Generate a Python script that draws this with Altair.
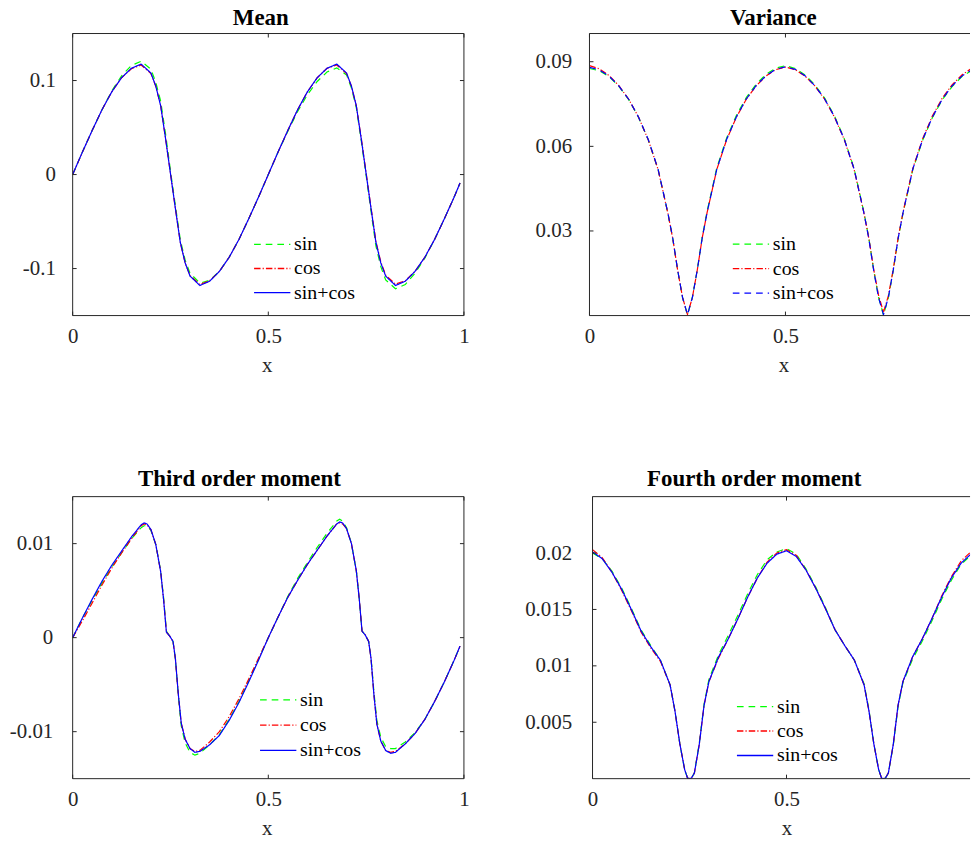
import altair as alt
import pandas as pd

SERIES = ["sin", "cos", "sin+cos"]
LINE_COLORS = ["#00ff00", "#ff0000", "#0000ff"]
X_TICKS_FULL = [0, 0.5, 1]
X_TICKS_CUT = [0, 0.5]   # right-hand panels are cut off by the page edge

# ---------------- Mean ----------------
mean_x = [0, 0.025, 0.05, 0.075, 0.1, 0.125, 0.15, 0.175, 0.2,
          0.2125, 0.225, 0.2375, 0.25, 0.2625, 0.275, 0.2875,
          0.3, 0.325, 0.35, 0.375, 0.4, 0.425, 0.45, 0.475, 0.5,
          0.525, 0.55, 0.575, 0.6, 0.625, 0.65, 0.675, 0.7,
          0.7125, 0.725, 0.7375, 0.75, 0.7625, 0.775, 0.7875,
          0.8, 0.825, 0.85, 0.875, 0.9, 0.925, 0.95, 0.975, 0.99]
mean_sin = [0.0, 0.024, 0.047, 0.069, 0.089, 0.105, 0.116, 0.1205, 0.112,
            0.098, 0.078, 0.043, 0.004, -0.033, -0.069, -0.091,
            -0.105, -0.1155, -0.1125, -0.103, -0.088, -0.069, -0.047, -0.024, 0.0,
            0.024, 0.046, 0.067, 0.085, 0.099, 0.109, 0.1135, 0.106,
            0.092, 0.071, 0.036, -0.001, -0.039, -0.076, -0.098,
            -0.112, -0.1215, -0.117, -0.105, -0.089, -0.069, -0.047, -0.024, -0.009]
mean_cos = [0.0, 0.024, 0.047, 0.069, 0.088, 0.103, 0.1125, 0.1165, 0.1075,
            0.094, 0.073, 0.038, 0.001, -0.036, -0.072, -0.094,
            -0.1075, -0.117, -0.113, -0.103, -0.088, -0.069, -0.047, -0.024, 0.0,
            0.024, 0.047, 0.069, 0.088, 0.103, 0.113, 0.1165, 0.1075,
            0.094, 0.073, 0.039, 0.002, -0.035, -0.071, -0.093,
            -0.107, -0.1165, -0.113, -0.103, -0.088, -0.069, -0.047, -0.024, -0.009]
mean_sincos = [0.0, 0.024, 0.047, 0.069, 0.088, 0.103, 0.113, 0.1175, 0.108,
               0.094, 0.073, 0.038, 0.001, -0.036, -0.072, -0.094,
               -0.108, -0.118, -0.1135, -0.103, -0.088, -0.069, -0.047, -0.024, 0.0,
               0.024, 0.047, 0.069, 0.088, 0.103, 0.113, 0.1175, 0.108,
               0.094, 0.073, 0.038, 0.001, -0.036, -0.072, -0.094,
               -0.108, -0.118, -0.1135, -0.103, -0.088, -0.069, -0.047, -0.024, -0.009]

# ---------------- Variance ----------------
var_x = [0, 0.025, 0.05, 0.075, 0.1, 0.125, 0.15, 0.175, 0.2,
         0.2125, 0.225, 0.2375, 0.25, 0.2625, 0.275, 0.2875,
         0.3, 0.325, 0.35, 0.375, 0.4, 0.425, 0.45, 0.475, 0.5,
         0.525, 0.55, 0.575, 0.6, 0.625, 0.65, 0.675, 0.7,
         0.7125, 0.725, 0.7375, 0.75, 0.7625, 0.775, 0.7875,
         0.8, 0.825, 0.85, 0.875, 0.9, 0.925, 0.95, 0.975, 1.0]
var_sin = [0.0876, 0.0868, 0.0847, 0.0813, 0.0766, 0.0703, 0.0623, 0.0518, 0.0363,
           0.0273, 0.0160, 0.0063, 0.0002, 0.0065, 0.0163, 0.0277,
           0.0369, 0.0525, 0.0630, 0.0710, 0.0773, 0.0820, 0.0855, 0.0877, 0.0886,
           0.0876, 0.0853, 0.0818, 0.0771, 0.0708, 0.0627, 0.0522, 0.0367,
           0.0276, 0.0162, 0.0064, 0.0002, 0.0063, 0.0160, 0.0273,
           0.0364, 0.0518, 0.0622, 0.0702, 0.0765, 0.0812, 0.0847, 0.0869, 0.0878]
var_cos = [0.0886, 0.0875, 0.0851, 0.0815, 0.0767, 0.0704, 0.0623, 0.0518, 0.0363,
           0.0273, 0.0160, 0.0064, 0.0004, 0.0064, 0.0161, 0.0274,
           0.0365, 0.0519, 0.0624, 0.0704, 0.0767, 0.0814, 0.0849, 0.0872, 0.0881,
           0.0872, 0.0849, 0.0814, 0.0767, 0.0704, 0.0624, 0.0519, 0.0365,
           0.0276, 0.0165, 0.0072, 0.0012, 0.0070, 0.0164, 0.0276,
           0.0367, 0.0522, 0.0627, 0.0708, 0.0771, 0.0818, 0.0853, 0.0877, 0.0886]
var_sincos = [0.0880, 0.0871, 0.0849, 0.0814, 0.0767, 0.0704, 0.0624, 0.0519, 0.0364,
              0.0274, 0.0161, 0.0064, 0.0003, 0.0064, 0.0161, 0.0274,
              0.0365, 0.0520, 0.0625, 0.0705, 0.0768, 0.0815, 0.0850, 0.0873, 0.0882,
              0.0873, 0.0850, 0.0815, 0.0768, 0.0705, 0.0625, 0.0520, 0.0365,
              0.0274, 0.0161, 0.0064, 0.0003, 0.0064, 0.0161, 0.0274,
              0.0365, 0.0520, 0.0624, 0.0704, 0.0767, 0.0814, 0.0849, 0.0871, 0.0880]

# ---------------- Third order moment ----------------
third_x = [0, 0.025, 0.05, 0.075, 0.1, 0.125, 0.15, 0.175,
           0.1825, 0.19, 0.2, 0.2125, 0.225, 0.2325, 0.2395, 0.2475,
           0.2565, 0.2625, 0.27, 0.2775, 0.2875, 0.3, 0.3125, 0.325,
           0.35, 0.375, 0.4, 0.425, 0.45, 0.475, 0.5,
           0.525, 0.55, 0.575, 0.6, 0.625, 0.65, 0.675,
           0.6825, 0.69, 0.7, 0.7125, 0.725, 0.7325, 0.7395, 0.7475,
           0.7565, 0.7625, 0.77, 0.7775, 0.7875, 0.8, 0.8125, 0.825,
           0.85, 0.875, 0.9, 0.925, 0.95, 0.975, 0.99]
third_sin = [0.0, 0.0021, 0.0040, 0.0058, 0.0075, 0.0090, 0.0105, 0.0117,
             0.0119, 0.0119, 0.0114, 0.0099, 0.0071, 0.0042, 0.0007, 0.0002,
             -0.0004, -0.0023, -0.0062, -0.0094, -0.0112, -0.0122, -0.0125, -0.0123,
             -0.0114, -0.0103, -0.0087, -0.0068, -0.0046, -0.0023, 0.0,
             0.0022, 0.0044, 0.0063, 0.0080, 0.0096, 0.0111, 0.0124,
             0.0126, 0.0124, 0.0117, 0.0100, 0.0071, 0.0041, 0.0007, 0.0003,
             -0.0004, -0.0021, -0.0058, -0.0088, -0.0106, -0.0116, -0.0118, -0.0118,
             -0.0111, -0.0101, -0.0087, -0.0068, -0.0047, -0.0024, -0.0009]
third_cos = [0.0, 0.0018, 0.0037, 0.0056, 0.0074, 0.0090, 0.0105, 0.0119,
             0.0121, 0.0120, 0.0115, 0.0099, 0.0070, 0.0040, 0.0006, 0.0002,
             -0.0004, -0.0022, -0.0060, -0.0091, -0.0108, -0.0118, -0.0121, -0.0120,
             -0.0111, -0.0100, -0.0084, -0.0065, -0.0044, -0.0022, 0.0,
             0.0022, 0.0043, 0.0061, 0.0078, 0.0093, 0.0108, 0.0121,
             0.0122, 0.0121, 0.0116, 0.0100, 0.0071, 0.0041, 0.0007, 0.0003,
             -0.0004, -0.0022, -0.0061, -0.0092, -0.0110, -0.0120, -0.0122, -0.0121,
             -0.0113, -0.0102, -0.0087, -0.0068, -0.0047, -0.0024, -0.0009]
third_sincos = [0.0, 0.0021, 0.0041, 0.0060, 0.0077, 0.0092, 0.0107, 0.0120,
                0.0122, 0.0121, 0.0115, 0.0099, 0.0070, 0.0040, 0.0006, 0.0002,
                -0.0004, -0.0022, -0.0060, -0.0091, -0.0108, -0.0118, -0.0122, -0.0121,
                -0.0114, -0.0104, -0.0088, -0.0069, -0.0047, -0.0024, 0.0,
                0.0022, 0.0043, 0.0061, 0.0078, 0.0093, 0.0108, 0.0121,
                0.0123, 0.0122, 0.0116, 0.0100, 0.0071, 0.0041, 0.0007, 0.0003,
                -0.0004, -0.0022, -0.0061, -0.0092, -0.0110, -0.0120, -0.0123, -0.0122,
                -0.0113, -0.0102, -0.0087, -0.0068, -0.0047, -0.0024, -0.0009]

# ---------------- Fourth order moment ----------------
fourth_x = [0, 0.025, 0.05, 0.075, 0.1, 0.125, 0.15, 0.175, 0.2,
            0.2125, 0.225, 0.2375, 0.245, 0.25, 0.255, 0.2625, 0.275, 0.2875,
            0.3, 0.325, 0.35, 0.375, 0.4, 0.425, 0.45, 0.475, 0.5,
            0.525, 0.55, 0.575, 0.6, 0.625, 0.65, 0.675, 0.7,
            0.7125, 0.725, 0.7375, 0.745, 0.75, 0.755, 0.7625, 0.775, 0.7875,
            0.8, 0.825, 0.85, 0.875, 0.9, 0.925, 0.95, 0.975, 1.0]
fourth_sin = [0.0200, 0.0195, 0.0184, 0.0169, 0.0151, 0.0132, 0.0118, 0.0105, 0.0083,
              0.0060, 0.0031, 0.0008, 0.00005, 0.0, 0.00005, 0.0005, 0.0031, 0.0066,
              0.0088, 0.0110, 0.0127, 0.0145, 0.0164, 0.0181, 0.0194, 0.0201, 0.0204,
              0.0199, 0.0186, 0.0170, 0.0152, 0.0132, 0.0118, 0.0105, 0.0084,
              0.0061, 0.0031, 0.0008, 0.00005, 0.0, 0.00005, 0.0005, 0.0029, 0.0064,
              0.0085, 0.0106, 0.0122, 0.0140, 0.0159, 0.0176, 0.0190, 0.0198, 0.0200]
fourth_cos = [0.0203, 0.0196, 0.0183, 0.0167, 0.0149, 0.0130, 0.0116, 0.0104, 0.0083,
              0.0060, 0.0031, 0.0008, 0.00005, 0.0, 0.00005, 0.0005, 0.0030, 0.0065,
              0.0086, 0.0107, 0.0124, 0.0142, 0.0161, 0.0178, 0.0192, 0.0200, 0.0203,
              0.0198, 0.0185, 0.0169, 0.0151, 0.0132, 0.0118, 0.0105, 0.0083,
              0.0060, 0.0031, 0.0008, 0.00005, 0.0, 0.00005, 0.0005, 0.0030, 0.0065,
              0.0086, 0.0108, 0.0124, 0.0142, 0.0162, 0.0179, 0.0193, 0.0201, 0.0203]
fourth_sincos = [0.0201, 0.0195, 0.0183, 0.0168, 0.0150, 0.0131, 0.0117, 0.0105, 0.0083,
                 0.0060, 0.0031, 0.0008, 0.00005, 0.0, 0.00005, 0.0005, 0.0030, 0.0065,
                 0.0086, 0.0108, 0.0124, 0.0142, 0.0161, 0.0178, 0.0191, 0.0199, 0.0202,
                 0.0197, 0.0185, 0.0169, 0.0151, 0.0132, 0.0118, 0.0105, 0.0083,
                 0.0060, 0.0031, 0.0008, 0.00005, 0.0, 0.00005, 0.0005, 0.0030, 0.0065,
                 0.0086, 0.0108, 0.0124, 0.0142, 0.0161, 0.0178, 0.0191, 0.0199, 0.0201]

FONT = "Liberation Serif"
AX = "#262626"
DASH = [6.7, 5]
DASHDOT = [6.5, 2.1, 1.2, 2.1]
SOLID = [1, 0]
LAB = "(datum.value < 0 ? '-' : '') + format(abs(datum.value), '~g')"
ONE = pd.DataFrame({"k": [0]})


def make_panel(title, title_cx, title_y, xs, series_vals, ydom, yticks, dashes,
               w, h, xmax, xticks, right_edge, lab_pad, leg_x, leg_y, row_pad):
    recs = []
    for name, vals in zip(SERIES, series_vals):
        assert len(vals) == len(xs), (title, name, len(vals), len(xs))
        for xv, yv in zip(xs, vals):
            recs.append({"x": xv, "y": yv, "series": name})
    df = pd.DataFrame(recs)

    xscale = alt.Scale(domain=[0, xmax], nice=False, zero=False)
    yscale = alt.Scale(domain=ydom, nice=False, zero=False)
    xaxis = alt.Axis(values=xticks, title="x", labelExpr=LAB, grid=False,
                     domain=False, ticks=False, tickSize=0, labelPadding=27,
                     labelBaseline="alphabetic", labelFlush=False,
                     labelFont=FONT, labelFontSize=21, labelColor=AX,
                     titleFont=FONT, titleFontSize=21, titleFontWeight="normal",
                     titleColor=AX, titleY=56, titleX=195, titleAlign="center",
                     titleBaseline="alphabetic")
    yaxis = alt.Axis(values=yticks, title=None, labelExpr=LAB, grid=False,
                     domain=False, ticks=False, tickSize=0, labelPadding=lab_pad,
                     labelFlush=False, labelFont=FONT, labelFontSize=21,
                     labelColor=AX, minExtent=64, maxExtent=64)
    leg = alt.Legend(title=None, orient="none", legendX=leg_x, legendY=leg_y,
                     direction="vertical", symbolType="stroke", symbolSize=1332,
                     symbolStrokeWidth=1.3, clipHeight=22, rowPadding=row_pad,
                     labelFont=FONT, labelFontSize=20, labelColor="black",
                     labelOffset=3, padding=0)

    lines = alt.Chart(df).mark_line(strokeWidth=1.2, clip=True).encode(
        x=alt.X("x:Q", scale=xscale, axis=xaxis),
        y=alt.Y("y:Q", scale=yscale, axis=yaxis),
        color=alt.Color("series:N", scale=alt.Scale(domain=SERIES, range=LINE_COLORS),
                        legend=leg),
        strokeDash=alt.StrokeDash("series:N", scale=alt.Scale(domain=SERIES, range=dashes),
                                  legend=leg),
    )
    xt = pd.DataFrame({"x": xticks})
    yt = pd.DataFrame({"y": yticks})
    tick = dict(color=AX, strokeWidth=1)
    layers = [
        lines,
        alt.Chart(xt).mark_rule(**tick).encode(
            x=alt.X("x:Q", scale=xscale, axis=xaxis), y=alt.value(h), y2=alt.value(h - 4)),
        alt.Chart(xt).mark_rule(**tick).encode(
            x=alt.X("x:Q", scale=xscale, axis=xaxis), y=alt.value(0), y2=alt.value(4)),
        alt.Chart(yt).mark_rule(**tick).encode(
            y=alt.Y("y:Q", scale=yscale, axis=yaxis), x=alt.value(0), x2=alt.value(4)),
        # frame (box) lines
        alt.Chart(ONE).mark_rule(**tick).encode(x=alt.value(0), x2=alt.value(w), y=alt.value(0)),
        alt.Chart(ONE).mark_rule(**tick).encode(x=alt.value(0), x2=alt.value(w), y=alt.value(h)),
        alt.Chart(ONE).mark_rule(**tick).encode(y=alt.value(0), y2=alt.value(h), x=alt.value(0)),
        # panel title
        alt.Chart(ONE).mark_text(font=FONT, fontSize=23, fontWeight="bold", color="black",
                                 align="center", baseline="alphabetic").encode(
            x=alt.value(title_cx), y=alt.value(title_y), text=alt.value(title)),
    ]
    if right_edge:
        layers.append(alt.Chart(yt).mark_rule(**tick).encode(
            y=alt.Y("y:Q", scale=yscale, axis=yaxis), x=alt.value(w - 4), x2=alt.value(w)))
        layers.append(alt.Chart(ONE).mark_rule(**tick).encode(
            y=alt.value(0), y2=alt.value(h), x=alt.value(w)))

    return alt.layer(*layers).properties(
        width=w, height=h, view=alt.ViewBackground(stroke="transparent"))


W2 = 382.5
W4 = 379.5
p1 = make_panel("Mean", 189.1, -8.3, mean_x, [mean_sin, mean_cos, mean_sincos],
                [-0.15, 0.15], [-0.1, 0, 0.1], [DASH, DASHDOT, SOLID],
                393.3, 283.5, 1, X_TICKS_FULL, True, 17.4, 181.6, 201, 2.2)
p2 = make_panel("Variance", 184.8, -8.3, var_x, [var_sin, var_cos, var_sincos],
                [0, 0.1], [0.03, 0.06, 0.09], [DASH, DASHDOT, DASH],
                W2, 283.5, W2 / 394, X_TICKS_CUT, False, 18, 143.3, 200.6, 2.7)
p3 = make_panel("Third order moment", 167.6, -10.7, third_x,
                [third_sin, third_cos, third_sincos],
                [-0.015, 0.015], [-0.01, 0, 0.01], [DASH, DASHDOT, SOLID],
                393.3, 283.5, 1, X_TICKS_FULL, True, 20, 187.6, 193.3, 3.4)
p4 = make_panel("Fourth order moment", 162.5, -10.7, fourth_x,
                [fourth_sin, fourth_cos, fourth_sincos],
                [0, 0.025], [0.005, 0.01, 0.015, 0.02], [DASH, DASHDOT, SOLID],
                W4, 283.5, W4 / 390, X_TICKS_CUT, False, 21, 144.4, 200, 2.6)

row1 = alt.hconcat(p1, p2, spacing=54.5).resolve_scale(
    color="independent", strokeDash="independent").resolve_legend(
    color="independent", strokeDash="independent")
row2 = alt.hconcat(p3, p4, spacing=53.55).resolve_scale(
    color="independent", strokeDash="independent").resolve_legend(
    color="independent", strokeDash="independent")

chart = alt.vconcat(row1, row2, spacing=91.5).resolve_scale(
    color="independent", strokeDash="independent").resolve_legend(
    color="independent", strokeDash="independent").properties(
    padding={"left": 0, "top": -3.5, "right": 0, "bottom": 0},
    background="white",
).configure_view(stroke="transparent")

chart.save("out.html", embed_options={"renderer": "svg", "actions": False})
